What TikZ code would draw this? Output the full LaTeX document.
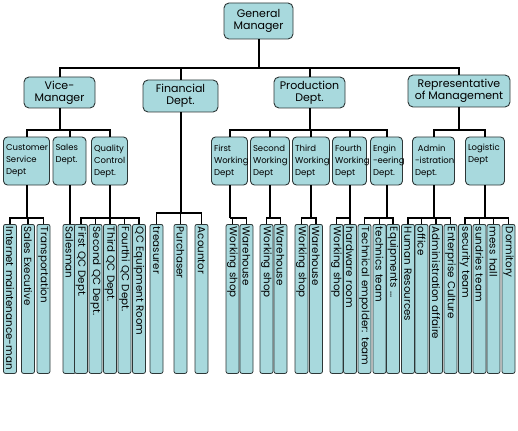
\documentclass[tikz,border=0pt]{standalone}
\usepackage{fontspec}
\setmainfont{Poppins}
\definecolor{boxfill}{RGB}{168,217,221}
\definecolor{boxline}{RGB}{45,55,55}

\begin{document}
\begin{tikzpicture}[x=1pt,y=-1pt,
  box/.style={draw=boxline, fill=boxfill, line width=0.9pt, rounded corners=5pt, align=center, inner sep=2pt, font=\fontsize{11}{12}\selectfont},
  midbox/.style={draw=boxline, fill=boxfill, line width=0.9pt, rounded corners=4pt, text width=#1, align=left, minimum height=48pt, inner xsep=2.5pt, font=\fontsize{8.5}{12}\selectfont},
  leaf/.style={draw=boxline, fill=boxfill, line width=0.8pt, rounded corners=2pt, rotate=-90, anchor=west, minimum width=149pt, minimum height=13pt, text width=144pt, inner xsep=2.5pt, inner ysep=0pt, align=left, font=\fontsize{10.3}{10.5}\selectfont, execute at begin node=\hbox\bgroup, execute at end node=\egroup},
  link/.style={line width=2pt},
  twig/.style={line width=1.4pt}]
\useasboundingbox (0,0) rectangle (518,430);

% top of the chart
\node[box, minimum width=69pt, minimum height=36pt] (gm) at (258.5,21) {General\\Manager};
\node[box, minimum width=71pt, minimum height=31pt] (vice) at (59.5,92.5) {Vice-\\Manager};
\node[box, minimum width=75pt, minimum height=32pt] (fin) at (180.5,96) {Financial\\Dept.};
\node[box, minimum width=71pt, minimum height=31pt] (prod) at (309.5,92.5) {Production\\Dept.};
\node[box, minimum width=102pt, minimum height=32pt] (rep) at (459,91) {Representative\\of Management};

% departments
\node[midbox=41pt] (cust) at (26.5,161) {Customer\\Service\\Dept};
\node[midbox=28pt] (sales) at (69.5,161) {Sales\\Dept.\\\strut};
\node[midbox=31pt] (qc) at (109.5,161) {Quality\\Control\\Dept.};
\node[midbox=31pt] (work1) at (229.5,161) {First\\Working\\Dept};
\node[midbox=34pt] (work2) at (270,161) {Second\\Working\\Dept};
\node[midbox=32pt] (work3) at (311,161) {Third\\Working\\Dept};
\node[midbox=29pt] (work4) at (349.5,161) {Fourth\\Working\\Dept};
\node[midbox=27pt] (eng) at (386.5,161) {Engin\\\mbox{-eering}\\Dept.};
\node[midbox=37pt] (admin) at (433.5,161) {\ Admin\\\mbox{-istration}\\Dept.};
\node[midbox=34pt] (logi) at (485,161) {Logistic\\Dept\\\strut};

% teams
\node[leaf] (c1) at (10,224) {Internet maintenance-man};
\node[leaf] (c2) at (28,224) {Sales Executive};
\node[leaf] (c3) at (43.5,224) {Transportation};
\node[leaf] (s1) at (69.5,224) {Salesman};
\node[leaf] (q1) at (81,224) {First QC Dept.};
\node[leaf] (q2) at (95.5,224) {Second QC Dept.};
\node[leaf] (q3) at (110,224) {Third QC Dept.};
\node[leaf] (q4) at (124.5,224) {Fourthi QC Dept.};
\node[leaf] (q5) at (139,224) {QC Equipment Room};
\node[leaf] (f1) at (156.5,224) {treasurer};
\node[leaf] (f2) at (180.5,224) {Purchaser};
\node[leaf] (f3) at (201.5,224) {Acountor};
\node[leaf] (a1) at (232.5,224) {Working shop};
\node[leaf] (a2) at (246.5,224) {Warehouse};
\node[leaf] (b1) at (266.5,224) {Working shop};
\node[leaf] (b2) at (280.5,224) {Warehouse};
\node[leaf] (t1) at (301.5,224) {Working shop};
\node[leaf] (t2) at (316,224) {Warehouse};
\node[leaf] (o1) at (336.5,224) {Working shop};
\node[leaf] (o2) at (350,224) {hardware room};
\node[leaf] (e1) at (364.5,224) {Technical empolder: team};
\node[leaf] (e2) at (379.5,224) {technics team};
\node[leaf] (e3) at (393,224) {Equipments ...};
\node[leaf] (d1) at (408,224) {Human Resources};
\node[leaf] (d2) at (421.5,224) {office};
\node[leaf] (d3) at (436,224) {Administration affaire};
\node[leaf] (d4) at (450.5,224) {Enterprise Culture};
\node[leaf] (g1) at (465,224) {security team};
\node[leaf] (g2) at (479.5,224) {sundries team};
\node[leaf] (g3) at (493.5,224) {mess hall};
\node[leaf] (g4) at (508.5,224) {Dormitory};

% lines
\draw[link] (gm.south) -- (gm.south |- 0,68) coordinate (gmbar);
\foreach \n in {vice,fin,prod,rep} \draw[link] (gmbar) -| (\n.north);
\draw[link] (vice.south) -- (vice.south |- 0,130) coordinate (vicebar);
\foreach \n in {cust,sales,qc} \draw[link] (vicebar) -| (\n.north);
\draw[link] (prod.south) -- (prod.south |- 0,130) coordinate (prodbar);
\foreach \n in {work1,work2,work3,work4,eng} \draw[link] (prodbar) -| (\n.north);
\draw[link] (rep.south) -- (rep.south |- 0,130) coordinate (repbar);
\foreach \n in {admin,logi} \draw[link] (repbar) -| (\n.north);

\draw[link] (cust.south) -- (cust.south |- 0,218) coordinate (custbar);
\foreach \n in {c1,c2,c3} \draw[twig] (custbar) -| (\n.west);
\draw[link] (sales.south) -- (s1.west);
\draw[link] (qc.south) -- (qc.south |- 0,218) coordinate (qcbar);
\foreach \n in {q1,q2,q3,q4,q5} \draw[twig] (qcbar) -| (\n.west);
\draw[link] (fin.south) -- (fin.south |- 0,213) coordinate (finbar);
\foreach \n in {f1,f2,f3} \draw[twig] (finbar) -| (\n.west);
\draw[link] (work1.south) -- (work1.south |- 0,218) coordinate (w1bar);
\foreach \n in {a1,a2} \draw[twig] (w1bar) -| (\n.west);
\draw[link] (work2.south) -- (work2.south |- 0,218) coordinate (w2bar);
\foreach \n in {b1,b2} \draw[twig] (w2bar) -| (\n.west);
\draw[link] (work3.south) -- (work3.south |- 0,218) coordinate (w3bar);
\foreach \n in {t1,t2} \draw[twig] (w3bar) -| (\n.west);
\draw[link] (work4.south) -- (work4.south |- 0,218) coordinate (w4bar);
\foreach \n in {o1,o2} \draw[twig] (w4bar) -| (\n.west);
\draw[link] (eng.south) -- (eng.south |- 0,218) coordinate (engbar);
\foreach \n in {e1,e2,e3} \draw[twig] (engbar) -| (\n.west);
\draw[link] (admin.south) -- (admin.south |- 0,218) coordinate (admbar);
\foreach \n in {d1,d2,d3,d4} \draw[twig] (admbar) -| (\n.west);
\draw[link] (logi.south) -- (logi.south |- 0,218) coordinate (logbar);
\foreach \n in {g1,g2,g3,g4} \draw[twig] (logbar) -| (\n.west);
\end{tikzpicture}
\end{document}
